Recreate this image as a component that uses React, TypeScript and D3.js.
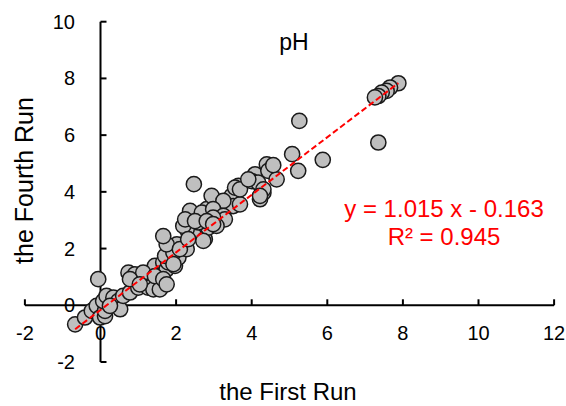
import React from "react";
import * as d3 from "d3";

const firstRun: number[] = [
  -0.67, -0.41, -0.23, -0.10, -0.01, 0.12, 0.12, 0.07, 0.16, 0.34, 0.47, 0.52, 0.25, 0.60, 0.78, -0.06,
  0.74, 0.91, 1.00, 1.09, 1.26, 1.40, 1.57, 1.31, 1.44, 1.57, 1.66, 1.75, 1.93,
  1.13, 1.44, 1.66, 1.75, 1.97, 1.79, 2.06, 1.71, 1.93, 2.28, 2.02, 1.75, 1.66, 2.46, 2.76, 2.85, 2.59,
  2.28, 2.19, 2.37, 2.81, 2.68, 3.47, 3.51, 3.12, 2.94,
  2.47, 3.25, 3.69, 2.98, 3.25, 3.29, 2.98, 2.24, 2.50, 2.81, 3.07, 2.98, 3.65, 3.56, 3.69,
  4.09, 4.00, 4.17, 4.31, 4.22, 4.40, 4.44, 4.66,
  5.26, 5.88, 5.07, 5.23, 4.57, 4.31, 4.22, 3.91,
  0.78, 1.04, 2.10, 2.32, 2.72, 1.93,
  7.88, 7.66, 7.57, 7.44, 7.35, 7.26, 7.35,
];
const fourthRun: number[] = [
  -0.67, -0.43, -0.20, -0.02, -0.43, -0.38, -0.20, 0.15, 0.33, 0.27, 0.15, -0.14, -0.02, 0.33, 0.45, 0.92,
  1.15, 1.09, 0.62, 0.80, 0.62, 0.56, 0.56, 1.15, 1.39, 1.03, 1.51, 1.27, 1.62,
  1.15, 1.03, 0.92, 0.74, 1.39, 1.51, 1.68, 1.74, 1.86, 1.98, 2.15, 2.15, 2.44, 2.50, 2.33, 2.74, 2.92,
  2.68, 2.80, 3.33, 3.39, 3.27, 3.86, 3.50, 3.62, 3.86,
  4.27, 3.68, 3.56, 3.39, 3.15, 3.03, 3.09, 3.03, 2.97, 2.97, 2.80, 2.86, 4.21, 4.15, 4.09,
  4.62, 4.38, 4.33, 3.97, 3.74, 4.97, 4.74, 4.44,
  6.50, 5.13, 5.33, 4.74, 4.94, 4.09, 3.86, 4.44,
  0.92, 0.74, 1.98, 2.33, 2.27, 1.45,
  7.83, 7.68, 7.56, 7.50, 7.38, 7.33, 5.74,
];

const xTicks = [-2, 0, 2, 4, 6, 8, 10, 12];
const yTicks = [-2, 0, 2, 4, 6, 8, 10];
const slope = 1.015;
const intercept = -0.163;
const equationText = "y = 1.015 x - 0.163";
const r2Text = "R² = 0.945";
const titleText = "pH";
const xLabel = "the First Run";
const yLabel = "the Fourth Run";

export default function App() {
  const W = 566;
  const H = 406;
  const x = d3.scaleLinear().domain([-2, 12]).range([24.9, 554.1]);
  const y = d3.scaleLinear().domain([-2, 10]).range([362, 21.7]);
  const font = "'Liberation Sans', Arial, sans-serif";
  const x0 = x(0);
  const y0 = y(0);
  const pts = firstRun.map((v, i) => [v, fourthRun[i]] as [number, number]);
  const xmin = d3.min(firstRun) as number;
  const xmax = d3.max(firstRun) as number;
  const line = d3.line<number>().x((d) => x(d)).y((d) => y(slope * d + intercept));

  return (
    <svg width={W} height={H} style={{ position: "absolute", left: 0, top: 0, background: "#fff" }} fontFamily={font}>
      <rect width={W} height={H} fill="#fff" />
      <line x1={x(-2)} x2={x(12)} y1={y0} y2={y0} stroke="#000" strokeWidth={2} />
      <line x1={x0} x2={x0} y1={y(-2)} y2={y(10)} stroke="#000" strokeWidth={2} />
      {xTicks.map((t) => (
        <g key={"xt" + t}>
          <line x1={x(t)} x2={x(t)} y1={y0} y2={y0 - 6} stroke="#000" strokeWidth={2} />
          <text x={x(t)} y={340} fontSize={20} textAnchor="middle" fill="#000">{t}</text>
        </g>
      ))}
      {yTicks.map((t) => (
        <g key={"yt" + t}>
          <line x1={x0} x2={x0 + 6} y1={y(t)} y2={y(t)} stroke="#000" strokeWidth={2} />
          <text x={75} y={y(t) + 7} fontSize={20} textAnchor="end" fill="#000">{t}</text>
        </g>
      ))}
      {pts.map((p, i) => (
        <circle key={i} cx={x(p[0])} cy={y(p[1])} r={7.6} fill="#bfbfbf" stroke="#1a1a1a" strokeWidth={1.5} />
      ))}
      <path d={line([xmin, xmax]) || ""} fill="none" stroke="#ff0000" strokeWidth={2} strokeDasharray="6 3" />
      <text x={294} y={50} fontSize={23} textAnchor="middle" fill="#000">{titleText}</text>
      <text x={444} y={217} fontSize={24} textAnchor="middle" fill="#ff0000">{equationText}</text>
      <text x={444} y={245} fontSize={24} textAnchor="middle" fill="#ff0000">{r2Text}</text>
      <text x={288} y={400} fontSize={24} textAnchor="middle" fill="#000">{xLabel}</text>
      <text transform="translate(33,180.5) rotate(-90)" fontSize={25} textAnchor="middle" fill="#000">{yLabel}</text>
    </svg>
  );
}
